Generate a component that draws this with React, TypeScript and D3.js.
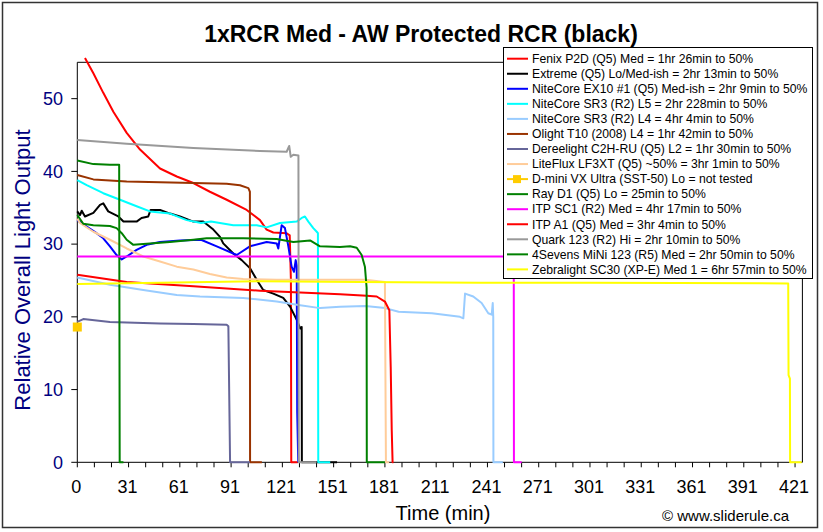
import React from 'react';
import * as d3 from 'd3';

type P = [number, number];

// ---- data (time in minutes, relative output) ----
const fenixP2D: P[] = [[4.5,55.6],[9.4,53.5],[15.2,50.8],[21.1,48.2],[28.9,45.3],[36.7,43.0],[48.4,40.4],[58.2,39.3],[67.9,38.4],[77.6,37.2],[87.4,36.1],[99.1,34.7],[106.9,33.3],[110.8,32.0],[114.7,31.6],[122.5,31.5],[124.3,31.2],[125,25],[125.2,0],[129,0]];
const extreme: P[] = [[0,34.5],[1.6,34.0],[2.6,34.6],[4.5,33.8],[9.4,34.3],[13.3,35.4],[15.2,35.6],[18.1,34.5],[24,33.8],[27,33.1],[34.7,33.1],[37.6,33.6],[41.5,33.8],[42.9,34.7],[48.4,34.7],[54.3,34.2],[60.1,33.8],[67.9,33.1],[73.7,33.1],[79.6,32.0],[83.5,31.0],[85.4,30.1],[91.3,28.7],[96.2,27.8],[101,26.7],[105,25.1],[108.8,23.7],[114.7,23.2],[120.5,22.6],[124.5,21.4],[128.4,19.6],[130.4,18.4],[131.3,18.6],[131.4,0],[152,0]];
const ex10: P[] = [[0,33.3],[5.5,32.4],[11.3,31.5],[15.2,30.8],[19.1,29.7],[23,28.5],[26,27.9],[28.9,28.3],[34.7,29.2],[40.6,29.9],[48.4,30.3],[60.1,30.5],[72.4,30.6],[81.6,29.7],[93.3,28.5],[101,29.7],[110.8,30.3],[116.7,30.1],[117.6,29.4],[119.6,32.6],[121.5,32.2],[123.5,29.7],[125.4,26.9],[126.8,26.2],[127.8,27.8],[128.4,27.0],[128.7,6.8],[129.3,0]];
const sr3L5: P[] = [[0,38.8],[5.5,38.1],[15.2,37.0],[25,36.1],[34.7,35.2],[42.5,34.5],[54.3,34.2],[64,33.3],[72.4,32.9],[78.2,33.1],[91.3,32.6],[105,32.6],[110.8,32.3],[118.6,32.9],[128.4,33.1],[131.3,33.6],[133.2,33.8],[135.2,33.1],[138.1,32.2],[140.1,31.7],[140.8,31.5],[141,0],[148,0]];
const sr3L4: P[] = [[0,25.4],[19.1,24.4],[38.6,23.7],[58.2,23.0],[71.8,22.8],[97.1,22.6],[116.7,22.1],[130.4,21.6],[142.1,21.2],[153.8,21.4],[168.5,21.5],[180.2,21.2],[188,20.7],[207.5,20.5],[223.9,20.0],[225.9,19.8],[226.9,23.2],[231.7,22.8],[236.6,21.9],[240.5,20.5],[242.5,20.3],[243.1,21.9],[243.4,20.0],[243.5,0],[249,0]];
const olightT10: P[] = [[0,39.5],[9.4,38.9],[28.9,38.6],[48.4,38.5],[67.9,38.4],[87.4,38.3],[95.2,38.1],[100.1,37.7],[101,37.2],[101.1,0],[108,0]];
const dereelight: P[] = [[0,19.3],[3.5,19.7],[19.1,19.3],[48.4,19.1],[67.9,19.0],[87.4,18.9],[88.4,18.7],[89.4,0],[101,0]];
const liteFlux: P[] = [[0,33.5],[1.6,32.9],[9.4,31.7],[19.1,30.6],[28.9,29.4],[38.6,28.3],[48.4,27.6],[58.2,26.9],[67.9,26.5],[77.6,25.9],[87.4,25.4],[97.1,25.2],[116.7,25.1],[140,25.1],[168.5,25.1],[180,24.8],[180.6,0],[182.5,0]];
const dMini: P[] = [[0,18.6]];
const rayD1: P[] = [[0,41.5],[9.4,41.0],[19.1,40.9],[24.5,40.9],[24.8,0],[27,0]];
const itpSC1: P[] = [[0,28.3],[255.4,28.3],[255.5,0],[260,0]];
const itpA1: P[] = [[0,25.8],[28.9,24.8],[67.9,24.2],[106.9,23.6],[153.8,23.1],[169.3,22.9],[175.2,22.8],[180,22.1],[182.6,20.9],[183.4,13.1],[184,4.4],[184.5,0],[185,0]];
const quark123: P[] = [[0,44.3],[28.9,43.8],[67.9,43.2],[106.9,42.8],[122.5,42.7],[124,43.5],[124.9,42.0],[126.4,42.3],[129.4,42.2],[129.6,0],[140,0]];
const fourSevens: P[] = [[0,34.0],[3.5,32.8],[9.4,32.6],[19.1,32.5],[23,32.2],[26,31.5],[28.9,30.6],[32.8,29.9],[42.5,30.1],[54.2,30.3],[67.9,30.6],[75.7,30.8],[97.1,30.8],[116.7,30.7],[126.4,30.3],[136.2,30.5],[142,29.7],[153.7,29.6],[159.6,29.7],[163.5,29.5],[166.4,28.5],[168.3,26.9],[169.3,24],[169.4,0],[180,0]];
const zebralight: P[] = [[0,24.5],[48.4,24.7],[106.9,24.9],[165,24.8],[236,24.7],[300,24.7],[416,24.6],[416.2,12],[417,11.5],[417.1,0],[423.9,0]];

const seriesData: P[][] = [fenixP2D, extreme, ex10, sr3L5, sr3L4, olightT10, dereelight, liteFlux, dMini, rayD1, itpSC1, itpA1, quark123, fourSevens, zebralight];
const seriesNames: string[] = [
  'Fenix P2D (Q5) Med = 1hr 26min to 50%',
  'Extreme (Q5) Lo/Med-ish = 2hr 13min to 50%',
  'NiteCore EX10 #1 (Q5) Med-ish = 2hr 9min to 50%',
  'NiteCore SR3 (R2) L5 = 2hr 228min to 50%',
  'NiteCore SR3 (R2) L4 = 4hr 4min to 50%',
  'Olight T10 (2008) L4 = 1hr 42min to 50%',
  'Dereelight C2H-RU (Q5) L2 = 1hr 30min to 50%',
  'LiteFlux LF3XT (Q5) ~50% = 3hr 1min to 50%',
  'D-mini VX Ultra (SST-50) Lo = not tested',
  'Ray D1 (Q5) Lo = 25min to 50%',
  'ITP SC1 (R2) Med = 4hr 17min to 50%',
  'ITP A1 (Q5) Med = 3hr 4min to 50%',
  'Quark 123 (R2) Hi = 2hr 10min to 50%',
  '4Sevens MiNi 123 (R5) Med = 2hr 50min to 50%',
  'Zebralight SC30 (XP-E) Med 1 = 6hr 57min to 50%',
];
const seriesColors: string[] = ['#FF0000', '#000000', '#0000FF', '#00FFFF', '#99CCFF', '#993300', '#666699', '#FFCC99', '#FFCC00', '#008000', '#FF00FF', '#FF0000', '#999999', '#008000', '#FFFF00'];

const xTickLabels: string[] = ['0', '31', '61', '91', '121', '151', '181', '211', '241', '271', '301', '331', '361', '391', '421'];
const yTickValues: number[] = [0, 10, 20, 30, 40, 50];

const FONT = 'Liberation Sans, Arial, sans-serif';

export default function App() {
  const W = 823, H = 532;
  const x = d3.scaleLinear().domain([0, 424.3]).range([77.3, 802.4]);
  const y = d3.scaleLinear().domain([0, 55]).range([462.3, 62.3]);
  const line = d3.line<P>().x(d => x(d[0])).y(d => y(d[1]));
  const minorTicks = d3.range(0, 421, 10);
  const legX = 503, legY = 47, legW = 309, legH = 231;

  return (
    <svg width={W} height={H} style={{ position: 'absolute', left: 0, top: 0, background: '#fff' }} fontFamily={FONT}>
      <rect x={0} y={0} width={W} height={H} fill="#fff" />
      <rect x={2.5} y={2.5} width={815} height={525} fill="none" stroke="#333" strokeWidth={1.5} />
      <text x={421} y={42} textAnchor="middle" fontSize={23} fontWeight="bold" fill="#000">1xRCR Med - AW Protected RCR (black)</text>

      {/* plot area border */}
      <path d={`M${x(0)},${y(55)}H${x(424.3)}V${y(0)}`} fill="none" stroke="#000" strokeWidth={1} />

      {/* axes */}
      <line x1={x(0)} x2={x(424.3)} y1={y(0)} y2={y(0)} stroke="#000" strokeWidth={1} />
      <line x1={x(0)} x2={x(0)} y1={y(0)} y2={y(55)} stroke="#000" strokeWidth={1} />
      {minorTicks.map(t => (
        <line key={'xt' + t} x1={x(t)} x2={x(t)} y1={y(0)} y2={y(0) + 5} stroke="#000" strokeWidth={1} />
      ))}
      {xTickLabels.map((lab, i) => (
        <text key={'xl' + i} x={x(i * 30) - 1} y={493} textAnchor="middle" fontSize={18} fill="#000">{lab}</text>
      ))}
      {yTickValues.map(v => (
        <g key={'yt' + v}>
          <line x1={x(0) - 6} x2={x(0)} y1={y(v)} y2={y(v)} stroke="#000" strokeWidth={1} />
          <text x={63} y={y(v)} dy="0.35em" textAnchor="end" fontSize={18} fill="#000080">{v}</text>
        </g>
      ))}
      <text x={443} y={520} textAnchor="middle" fontSize={20} fill="#000">Time (min)</text>
      <text transform={`translate(30,270) rotate(-90)`} textAnchor="middle" fontSize={22} fill="#000080">Relative Overall Light Output</text>
      <text x={789} y={521} textAnchor="end" fontSize={15} fill="#000">© www.sliderule.ca</text>

      {/* series */}
      {seriesData.map((s, i) => s.length > 1 ? (
        <path key={'s' + i} d={line(s) || ''} fill="none" stroke={seriesColors[i]} strokeWidth={2} strokeLinejoin="round" />
      ) : (
        <rect key={'s' + i} x={x(s[0][0]) - 4.5} y={y(s[0][1]) - 4.5} width={9} height={9} fill={seriesColors[i]} />
      ))}

      {/* legend */}
      <rect x={legX + 0.5} y={legY + 0.5} width={legW} height={legH} fill="#fff" stroke="#000" strokeWidth={1} />
      {seriesNames.map((name, i) => {
        const ry = 58.7 + i * 15.05;
        return (
          <g key={'lg' + i}>
            <line x1={507} x2={528} y1={ry} y2={ry} stroke={seriesColors[i]} strokeWidth={2} />
            {i === 8 && <rect x={513} y={ry - 4} width={8} height={8} fill={seriesColors[i]} />}
            <text x={532} y={ry} dy="0.35em" fontSize={12.2} fill="#000">{name}</text>
          </g>
        );
      })}
    </svg>
  );
}
